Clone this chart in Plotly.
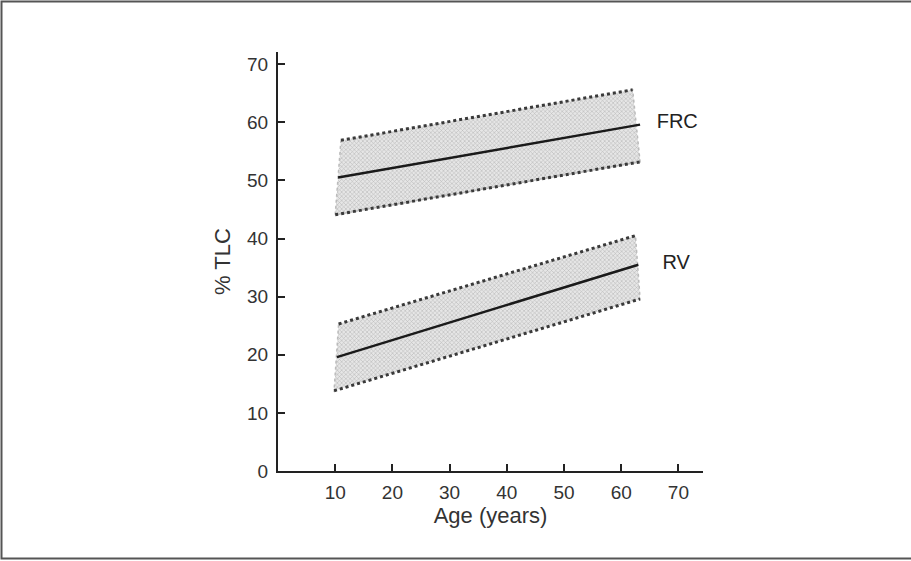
import plotly.graph_objects as go

# Data
frc_x = [10.5, 63.3]
frc_mid = [50.5, 59.6]
frc_up_x = [11.0, 62.0]
frc_up = [56.9, 65.6]
frc_lo_x = [10.0, 63.3]
frc_lo = [44.1, 53.2]

rv_x = [10.3, 63.0]
rv_mid = [19.6, 35.5]
rv_up_x = [10.6, 62.5]
rv_up = [25.3, 40.5]
rv_lo_x = [9.8, 63.3]
rv_lo = [13.8, 29.6]

band_labels = ["FRC", "RV"]
label_x = [69.8, 69.6]
label_y = [59.8, 35.6]

x_ticks = [10, 20, 30, 40, 50, 60, 70]
y_ticks = [0, 10, 20, 30, 40, 50, 60, 70]

fig = go.Figure()

pattern = dict(shape="x", fgcolor="#8a8a8a", bgcolor="#e6e6e6", size=3, solidity=0.35)

for ux, uy, lx, ly, mx, my in [
    (frc_up_x, frc_up, frc_lo_x, frc_lo, frc_x, frc_mid),
    (rv_up_x, rv_up, rv_lo_x, rv_lo, rv_x, rv_mid),
]:
    fig.add_trace(go.Scatter(
        x=ux + lx[::-1] + [ux[0]], y=uy + ly[::-1] + [uy[0]],
        mode="lines", fill="toself", fillcolor="#dcdcdc",
        fillpattern=pattern,
        line=dict(color="#bbbbbb", width=1.5, dash="dot"),
        hoverinfo="skip", showlegend=False))
    for xs, ys in [(ux, uy), (lx, ly)]:
        fig.add_trace(go.Scatter(
            x=xs, y=ys, mode="lines",
            line=dict(color="#3a3a3a", width=3, dash="dot"),
            showlegend=False))
    fig.add_trace(go.Scatter(
        x=mx, y=my, mode="lines",
        line=dict(color="#1a1a1a", width=2.5),
        showlegend=False))

fig.add_trace(go.Scatter(
    x=label_x, y=label_y, mode="text", text=band_labels,
    textfont=dict(family="Liberation Sans, Arial", size=20, color="#222"),
    showlegend=False))

L, R, T, B = 278, 208, 52, 90
W, H = 911, 561
pw, ph = W - L - R, H - T - B

fig.update_layout(
    width=W, height=H,
    margin=dict(l=L, r=R, t=T, b=B, pad=0),
    paper_bgcolor="white", plot_bgcolor="white",
    font=dict(family="Liberation Sans, Arial", color="#333"),
    xaxis=dict(
        range=[0, 74.3], tickvals=x_ticks, ticks="inside", ticklen=7, tickwidth=2,
        tickcolor="#222", showline=True, linecolor="#222", linewidth=2,
        showgrid=False, zeroline=False, tickfont=dict(size=19, color="#333"),
        ticklabelstandoff=3,
        title=dict(text="Age (years)", font=dict(size=22, color="#333"), standoff=6),
    ),
    yaxis=dict(
        range=[0, 72.1], tickvals=y_ticks, ticks="inside", ticklen=7, tickwidth=2,
        tickcolor="#222", showline=True, linecolor="#222", linewidth=2,
        showgrid=False, zeroline=False, tickfont=dict(size=19, color="#333"),
        ticklabelstandoff=4,
        title=dict(text="% TLC", font=dict(size=22, color="#333"), standoff=10),
    ),
    shapes=[
        dict(type="rect", xref="paper", yref="paper",
             x0=(1.5 - L) / pw, x1=(W + 10 - L) / pw,
             y0=(H - 558.5 - B) / ph, y1=(H - 1.5 - B) / ph,
             line=dict(color="#555", width=2), layer="below"),
    ],
)

fig.write_html(
    "out.html",
    config={"displayModeBar": False},
    post_script="document.body.style.margin='0';document.body.style.overflow='hidden';",
)
